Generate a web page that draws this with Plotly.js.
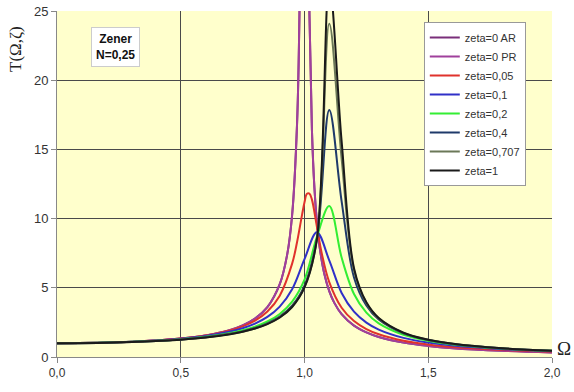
<!DOCTYPE html>
<html>
<head>
<meta charset="utf-8">
<script src="https://cdn.plot.ly/plotly-3.0.1.min.js"></script>
<style>html,body{margin:0;padding:0;background:#fff;}#chart{width:574px;height:392px;}</style>
</head>
<body>
<div id="chart"></div>
<script>
// Frequency ratio Omega for the undamped curves (denser sampling)
const omegaUndamped = [0, 0.2, 0.4, 0.5, 0.6, 0.7, 0.75, 0.8, 0.85, 0.9, 0.93, 0.95, 0.97, 0.98, 0.99, 1.01, 1.02, 1.03, 1.04, 1.05, 1.06, 1.08, 1.1, 1.12, 1.15, 1.2, 1.25, 1.3, 1.4, 1.5, 1.6, 1.8, 2.0];
const tZeta0 = [1, 1.042, 1.19, 1.333, 1.563, 1.961, 2.286, 2.778, 3.604, 5.263, 7.40, 10.26, 16.9, 25.3, 50.2, 49.7, 24.75, 16.4, 12.25, 9.76, 8.09, 6.01, 4.76, 3.93, 3.10, 2.27, 1.78, 1.45, 1.04, 0.80, 0.64, 0.45, 0.333];

// Omega for the lightly damped curve (zeta=0,05)
const omegaLight = [0, 0.2, 0.4, 0.5, 0.6, 0.7, 0.75, 0.8, 0.85, 0.9, 0.95, 0.97, 0.99, 1.0, 1.01, 1.02, 1.03, 1.05, 1.07, 1.1, 1.15, 1.2, 1.25, 1.3, 1.4, 1.5, 1.6, 1.8, 2.0];
const tZeta005 = [1, 1.042, 1.189, 1.328, 1.547, 1.917, 2.208, 2.630, 3.289, 4.433, 6.744, 8.31, 10.27, 11.18, 11.79, 11.80, 11.37, 9.43, 7.47, 5.416, 3.558, 2.595, 2.020, 1.641, 1.175, 0.902, 0.723, 0.506, 0.380];

// Omega for the other damped curves
const omega = [0, 0.2, 0.4, 0.5, 0.6, 0.7, 0.75, 0.8, 0.85, 0.9, 0.95, 1.0, 1.05, 1.1, 1.15, 1.2, 1.25, 1.3, 1.4, 1.5, 1.6, 1.8, 2.0];
const tZeta01  = [1, 1.041, 1.184, 1.315, 1.516, 1.838, 2.079, 2.412, 2.894, 3.642, 4.899, 7.071, 9.017, 6.982, 4.627, 3.280, 2.488, 1.981, 1.380, 1.040, 0.824, 0.566, 0.420];
const tZeta02  = [1, 1.041, 1.173, 1.290, 1.463, 1.734, 1.931, 2.195, 2.564, 3.113, 3.997, 5.590, 8.674, 10.91, 7.186, 4.549, 3.202, 2.430, 1.601, 1.169, 0.906, 0.607, 0.444];
const tZeta04  = [1, 1.038, 1.159, 1.265, 1.425, 1.673, 1.853, 2.092, 2.425, 2.916, 3.704, 5.154, 8.531, 17.85, 11.25, 5.755, 3.720, 2.707, 1.712, 1.226, 0.941, 0.622, 0.452];
const tZeta0707 = [1, 1.036, 1.151, 1.256, 1.412, 1.654, 1.830, 2.064, 2.388, 2.866, 3.632, 5.050, 8.493, 24.08, 14.34, 6.270, 3.901, 2.795, 1.744, 1.242, 0.950, 0.626, 0.454];
const tZeta1   = [1, 1.035, 1.149, 1.253, 1.408, 1.650, 1.824, 2.056, 2.379, 2.853, 3.615, 5.025, 8.484, 26.95, 15.58, 6.418, 3.949, 2.817, 1.752, 1.246, 0.952, 0.627, 0.454];

const seriesNames = ['zeta=0 AR', 'zeta=0 PR', 'zeta=0,05', 'zeta=0,1', 'zeta=0,2', 'zeta=0,4', 'zeta=0,707', 'zeta=1'];
const seriesX = [omegaUndamped, omegaUndamped, omegaLight, omega, omega, omega, omega, omega];
const seriesY = [tZeta0, tZeta0, tZeta005, tZeta01, tZeta02, tZeta04, tZeta0707, tZeta1];
const seriesColors = ['#7a2f7a', '#a0409c', '#e0322c', '#3030c8', '#33ee33', '#1f3a6a', '#6b7858', '#1a1a1a'];

const xTickVals = [0, 0.5, 1.0, 1.5, 2.0];
const xTickText = ['0,0', '0,5', '1,0', '1,5', '2,0'];
const yTickVals = [0, 5, 10, 15, 20, 25];
const yTickText = ['0', '5', '10', '15', '20', '25'];

const traces = seriesNames.map((n, i) => ({
  x: seriesX[i], y: seriesY[i], name: n, type: 'scatter', mode: 'lines',
  line: {color: seriesColors[i], width: 2, shape: 'spline', smoothing: 1}
}));

const layout = {
  width: 574, height: 392,
  margin: {l: 57, r: 22, t: 11, b: 35},
  paper_bgcolor: '#ffffff',
  plot_bgcolor: '#ffffcc',
  font: {family: 'Liberation Sans, Arial, sans-serif', size: 12, color: '#333'},
  showlegend: true,
  legend: {
    x: 0.741, y: 0.968, xanchor: 'left', yanchor: 'top',
    bgcolor: '#ffffff', bordercolor: '#999', borderwidth: 1,
    font: {size: 11, color: '#333'}
  },
  xaxis: {
    range: [0, 2], tickvals: xTickVals, ticktext: xTickText,
    showgrid: true, gridcolor: '#4a4a4a', gridwidth: 1,
    zeroline: false, showline: true, linecolor: '#888', linewidth: 1,
    ticks: 'outside', ticklen: 5, tickcolor: '#888',
    tickfont: {size: 12, color: '#333'}, fixedrange: true
  },
  yaxis: {
    range: [0, 25], tickvals: yTickVals, ticktext: yTickText,
    showgrid: true, gridcolor: '#4a4a4a', gridwidth: 1,
    zeroline: false, showline: true, linecolor: '#888', linewidth: 1,
    ticks: 'outside', ticklen: 5, tickcolor: '#888',
    tickfont: {size: 13, color: '#333'}, fixedrange: true
  },
  annotations: [
    {text: '<b>Zener<br>N=0,25</b>', xref: 'paper', yref: 'paper', x: 0.118, y: 0.895,
     xanchor: 'center', yanchor: 'middle', showarrow: false,
     font: {size: 12, color: '#111'}, bgcolor: '#ffffff', bordercolor: '#ccc', borderwidth: 1, borderpad: 4},
    {text: 'T(Ω,ζ)', xref: 'paper', yref: 'paper', x: -0.085, y: 0.89, xanchor: 'center', yanchor: 'middle',
     textangle: -90, showarrow: false, font: {family: 'Liberation Serif, Times New Roman, serif', size: 17, color: '#222'}},
    {text: 'Ω', xref: 'paper', yref: 'paper', x: 1.0, y: 0.0, xanchor: 'left', yanchor: 'bottom', xshift: 3, yshift: -4,
     showarrow: false, font: {family: 'Liberation Serif, Times New Roman, serif', size: 19, color: '#222'}}
  ]
};

Plotly.newPlot('chart', traces, layout, {displayModeBar: false, staticPlot: true});
</script>
</body>
</html>
